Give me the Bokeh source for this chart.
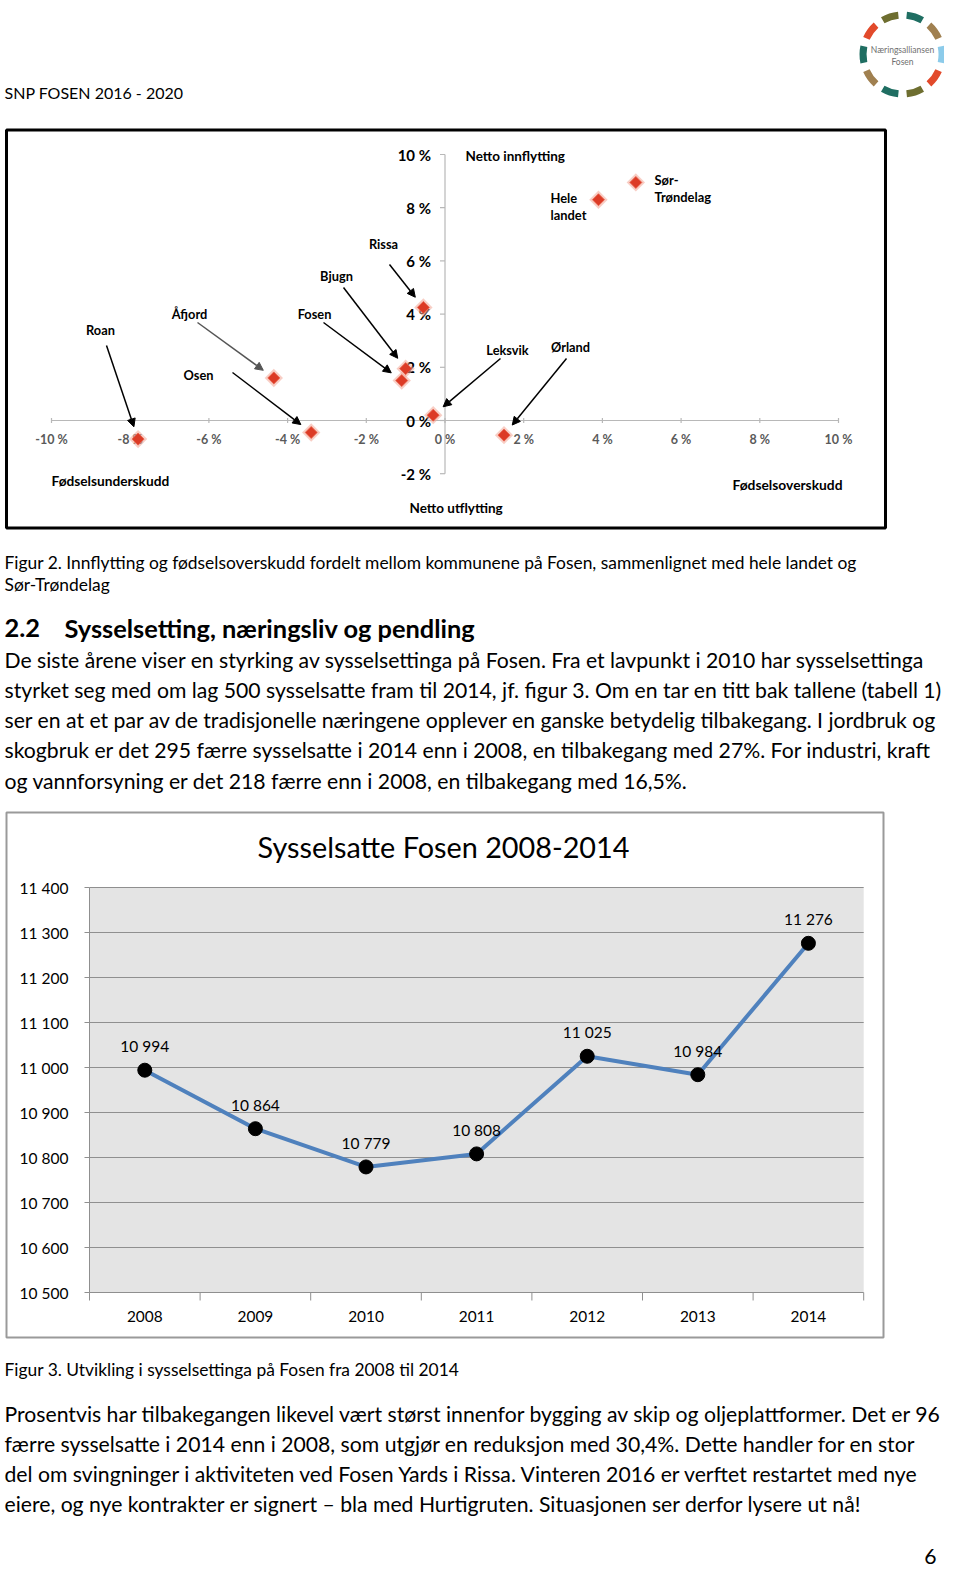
import math
from bokeh.plotting import figure
from bokeh.models import Range1d, Arrow, NormalHead
from bokeh.embed import file_html
from bokeh.resources import INLINE
from bokeh.core.properties import value

# ---------------- Figur 2 data ----------------
kommuner = ["Roan", "Osen", "Åfjord", "Fosen", "Bjugn", "Rissa", "Leksvik", "Ørland",
            "Hele landet", "Sør-Trøndelag"]
fodselsoverskudd = [-7.8, -3.4, -4.35, -1.1, -1.0, -0.55, -0.3, 1.5, 3.9, 4.85]
netto_innflytting = [-0.7, -0.45, 1.6, 1.5, 1.95, 4.25, 0.2, -0.55, 8.3, 8.95]
x_ticks_pct = [-10, -8, -6, -4, -2, 0, 2, 4, 6, 8, 10]
y_ticks_pct = [-2, 0, 2, 4, 6, 8, 10]

# ---------------- Figur 3 data ----------------
aar = [2008, 2009, 2010, 2011, 2012, 2013, 2014]
sysselsatte = [10994, 10864, 10779, 10808, 11025, 10984, 11276]
y_ticks_syss = [10500, 10600, 10700, 10800, 10900, 11000, 11100, 11200, 11300, 11400]

# ---------------- page texts ----------------
header_text = "SNP FOSEN 2016 - 2020"
caption2 = ["Figur 2. Innflytting og fødselsoverskudd fordelt mellom kommunene på Fosen, sammenlignet med hele landet og",
            "Sør-Trøndelag"]
heading_no = "2.2"
heading = "Sysselsetting, næringsliv og pendling"
para1 = ["De siste årene viser en styrking av sysselsettinga på Fosen. Fra et lavpunkt i 2010 har sysselsettinga",
         "styrket seg med om lag 500 sysselsatte fram til 2014, jf. figur 3. Om en tar en titt bak tallene (tabell 1)",
         "ser en at et par av de tradisjonelle næringene opplever en ganske betydelig tilbakegang. I jordbruk og",
         "skogbruk er det 295 færre sysselsatte i 2014 enn i 2008, en tilbakegang med 27%. For industri, kraft",
         "og vannforsyning er det 218 færre enn i 2008, en tilbakegang med 16,5%."]
chart3_title = "Sysselsatte Fosen 2008-2014"
caption3 = "Figur 3. Utvikling i sysselsettinga på Fosen fra 2008 til 2014"
para2 = ["Prosentvis har tilbakegangen likevel vært størst innenfor bygging av skip og oljeplattformer. Det er 96",
         "færre sysselsatte i 2014 enn i 2008, som utgjør en reduksjon med 30,4%. Dette handler for en stor",
         "del om svingninger i aktiviteten ved Fosen Yards i Rissa. Vinteren 2016 er verftet restartet med nye",
         "eiere, og nye kontrakter er signert – bla med Hurtigruten. Situasjonen ser derfor lysere ut nå!"]
page_no = "6"

# ---------------- layout constants (page pixels) ----------------
W, H = 944, 1568
PX0, PY0 = 0, 0
FONT = value("Lato")
BODY = 21.2
CAP = 17.4

# scatter chart placement: page px of value 0 and px per percent
S_X0, S_SX = 444.5, 39.35
S_Y0, S_SY = 420.0, 26.6
# line chart placement
L_X0, L_SX = 144.3, 110.6
L_Y0, L_SY = 1292.0, 0.45

p = figure(width=W, height=H, output_backend="svg", toolbar_location=None,
           x_range=Range1d(PX0, PX0 + W), y_range=Range1d(PY0 + H, PY0),
           x_axis_location=None, y_axis_location=None,
           min_border=0, min_border_left=0, min_border_right=0,
           min_border_top=0, min_border_bottom=0)
p.grid.visible = False
p.outline_line_color = None
p.background_fill_color = "white"
p.border_fill_color = "white"

p.extra_x_ranges["sx"] = Range1d((PX0 - S_X0) / S_SX, (PX0 + W - S_X0) / S_SX)
p.extra_y_ranges["sy"] = Range1d((S_Y0 - (PY0 + H)) / S_SY, (S_Y0 - PY0) / S_SY)
p.extra_x_ranges["lx"] = Range1d(aar[0] + (PX0 - L_X0) / L_SX, aar[0] + (PX0 + W - L_X0) / L_SX)
p.extra_y_ranges["ly"] = Range1d(y_ticks_syss[0] + (L_Y0 - (PY0 + H)) / L_SY,
                                 y_ticks_syss[0] + (L_Y0 - PY0) / L_SY)


def txt(x, y, s, size, align="left", bold=False, color="black", xr="default", yr="default",
        font=FONT, **kw):
    if not isinstance(x, list):
        x, y, s = [x], [y], [s]
    p.text(x=x, y=y, text=s, text_font=font, text_font_size=value(f"{size}px"),
           text_font_style="bold" if bold else "normal", text_color=color,
           text_align=align, text_baseline="middle", x_range_name=xr, y_range_name=yr, **kw)


# ---------------- header ----------------
txt(4, 92, header_text, 16)
logo_cols = ["#8ccbea", "#a08050", "#1f6e62", "#6e6e30", "#e24a2b",
             "#1f6e62", "#a08050", "#1f6e62", "#6e6e30", "#e24a2b"]
centres = [i * 36 for i in range(10)]
p.annular_wedge(x=902, y=54, inner_radius=36, outer_radius=43,
                start_angle=[math.radians(c - 12) for c in centres],
                end_angle=[math.radians(c + 12) for c in centres],
                fill_color=logo_cols, line_color=None)
txt(902, 49, "Næringsalliansen", 8.5, align="center", color="#707070")
txt(902, 61, "Fosen", 8.5, align="center", color="#707070")

# ---------------- Figur 2: scatter ----------------
p.quad(left=[6], right=[885], top=[129.5], bottom=[527.5], fill_color=None,
       line_color="black", line_width=3)
axis_col = "#b8b8b8"
p.line([x_ticks_pct[0], x_ticks_pct[-1]], [0, 0], x_range_name="sx", y_range_name="sy",
       line_color=axis_col, line_width=1.2)
p.line([0, 0], [y_ticks_pct[0], y_ticks_pct[-1]], x_range_name="sx", y_range_name="sy",
       line_color=axis_col, line_width=1.2)
th = 2.5 / S_SY
p.segment(x0=x_ticks_pct, y0=[-th] * len(x_ticks_pct), x1=x_ticks_pct, y1=[th] * len(x_ticks_pct),
          x_range_name="sx", y_range_name="sy", line_color=axis_col, line_width=1.2)
tl = 5 / S_SX
p.segment(x0=[-tl] * len(y_ticks_pct), y0=y_ticks_pct, x1=[0] * len(y_ticks_pct), y1=y_ticks_pct,
          x_range_name="sx", y_range_name="sy", line_color=axis_col, line_width=1.2)

txt(x_ticks_pct, [-19 / S_SY] * len(x_ticks_pct), [f"{t} %" for t in x_ticks_pct], 12.5,
    align="center", bold=True, color="#5a5a5a", xr="sx", yr="sy")
txt([-14 / S_SX] * len(y_ticks_pct), y_ticks_pct, [f"{t} %" for t in y_ticks_pct], 15,
    align="right", bold=True, color="black", xr="sx", yr="sy")

txt(465, 155, "Netto innflytting", 13.5, bold=True)
txt(409, 507, "Netto utflytting", 13.5, bold=True)
txt(51, 480, "Fødselsunderskudd", 13.7, bold=True)
txt(732, 484, "Fødselsoverskudd", 13.8, bold=True)

# points: soft halo + diamond
p.scatter(fodselsoverskudd, netto_innflytting, marker="square", angle=math.pi / 4, size=13,
          fill_color="#f2a595", fill_alpha=0.55, line_color=None, x_range_name="sx", y_range_name="sy")
p.scatter(fodselsoverskudd, netto_innflytting, marker="square", angle=math.pi / 4, size=8.5,
          fill_color="#dc3b26", line_color="#e8604a", line_width=0.8, x_range_name="sx", y_range_name="sy")

# labels with arrows (layout: label centre and arrow start, page px)
label_layout = {
    "Roan": ((100, 329), (106, 345), "black"),
    "Osen": ((198, 374), (232, 372), "black"),
    "Åfjord": ((189, 313), (197, 322), "#555555"),
    "Fosen": ((314, 313), (323, 322), "black"),
    "Bjugn": ((336, 275), (343, 287), "black"),
    "Rissa": ((383, 243), (389, 264), "black"),
    "Leksvik": ((507, 349), (500, 358), "black"),
    "Ørland": ((570, 346), (566, 358), "black"),
}
GAP = 13
for navn, xv, yv in zip(kommuner, fodselsoverskudd, netto_innflytting):
    if navn not in label_layout:
        continue
    (lx, ly), (ax, ay), col = label_layout[navn]
    txt(lx, ly, navn, 12.8, align="center", bold=True)
    px, py = S_X0 + S_SX * xv, S_Y0 - S_SY * yv
    dx, dy = ax - px, ay - py
    d = math.hypot(dx, dy)
    ex, ey = px + dx / d * GAP, py + dy / d * GAP
    p.add_layout(Arrow(end=NormalHead(size=8, fill_color=col, line_color=col),
                       x_start=ax, y_start=ay, x_end=ex, y_end=ey,
                       line_color=col, line_width=1.5))

txt(550, 197, "Hele", 12.9, bold=True)
txt(550, 214, "landet", 12.9, bold=True)
txt(654, 179, "Sør-", 12.9, bold=True)
txt(654, 196, "Trøndelag", 12.9, bold=True)

# ---------------- captions / body ----------------
txt(4, 562, caption2[0], CAP)
txt(4, 584, caption2[1], CAP)
txt(4, 627, heading_no, 25.4, bold=True)
txt(64, 627, heading, 25.4, bold=True)
for i, line in enumerate(para1):
    txt(4, 659 + i * 30.3, line, BODY)

# ---------------- Figur 3: line chart ----------------
p.quad(left=[6], right=[883], top=[812], bottom=[1337], fill_color=None,
       line_color="#9a9a9a", line_width=2)
txt(443, 846, chart3_title, 28.8, align="center")
x_left, x_right = aar[0] - 0.5, aar[-1] + 0.5
p.quad(left=[x_left], right=[x_right], bottom=[y_ticks_syss[0]], top=[y_ticks_syss[-1]],
       fill_color="#e4e4e4", line_color=None, x_range_name="lx", y_range_name="ly")
grid_col = "#8f8f8f"
p.segment(x0=[x_left] * len(y_ticks_syss), y0=y_ticks_syss, x1=[x_right] * len(y_ticks_syss),
          y1=y_ticks_syss, line_color=grid_col, line_width=1, x_range_name="lx", y_range_name="ly")
p.segment(x0=[x_left], y0=[y_ticks_syss[0]], x1=[x_left], y1=[y_ticks_syss[-1]],
          line_color=grid_col, line_width=1, x_range_name="lx", y_range_name="ly")
ytl = 5 / L_SX
p.segment(x0=[x_left - ytl] * len(y_ticks_syss), y0=y_ticks_syss, x1=[x_left] * len(y_ticks_syss),
          y1=y_ticks_syss, line_color=grid_col, line_width=1, x_range_name="lx", y_range_name="ly")
bounds = [a - 0.5 for a in aar] + [aar[-1] + 0.5]
xtl = 8 / L_SY
p.segment(x0=bounds, y0=[y_ticks_syss[0]] * len(bounds), x1=bounds,
          y1=[y_ticks_syss[0] - xtl] * len(bounds), line_color=grid_col, line_width=1,
          x_range_name="lx", y_range_name="ly")
txt([aar[0] + (68 - L_X0) / L_SX] * len(y_ticks_syss), y_ticks_syss,
    [f"{v:,}".replace(",", " ") for v in y_ticks_syss], 15.5, align="right",
    xr="lx", yr="ly")
txt(aar, [y_ticks_syss[0] - 24 / L_SY] * len(aar), [str(a) for a in aar], 15.4,
    align="center", xr="lx", yr="ly")

p.line(aar, sysselsatte, line_color="#4f81bd", line_width=4, x_range_name="lx", y_range_name="ly")
p.scatter(aar, sysselsatte, size=14, fill_color="black", line_color="black",
          x_range_name="lx", y_range_name="ly")
txt(aar, sysselsatte, [f"{v:,}".replace(",", " ") for v in sysselsatte], 15.5,
    align="center", xr="lx", yr="ly", y_offset=-24)

# ---------------- caption 3 / body 2 ----------------
txt(4, 1369, caption3, CAP)
for i, line in enumerate(para2):
    txt(4, 1413 + i * 30.3, line, BODY)
txt(936, 1556, page_no, BODY, align="right")

open("out.html", "w").write(file_html(p, INLINE))
